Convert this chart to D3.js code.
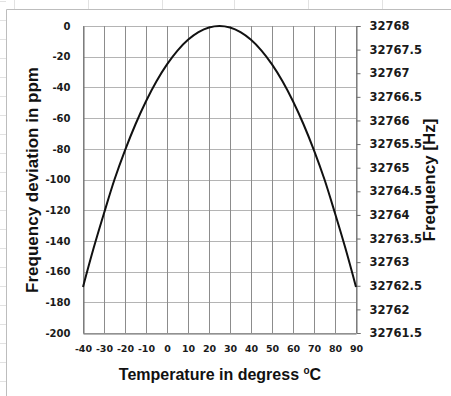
<!DOCTYPE html>
<html>
<head>
<meta charset="utf-8">
<script src="https://cdn.jsdelivr.net/npm/d3@7"></script>
<style>
  body { margin: 0; background: #fff; }
  svg { display: block; }
</style>
</head>
<body>
<svg id="chart" width="451" height="396"></svg>
<script>
// values
const tempC = [-40, -35, -30, -25, -20, -15, -10, -5, 0, 5, 10, 15, 20, 25, 30, 35, 40, 45, 50, 55, 60, 65, 70, 75, 80, 85, 90];
const ppm = [-170, -145, -122, -100, -81, -64, -49, -36, -25, -16, -9, -4, -1, 0, -1, -4, -9, -16, -25, -36, -49, -64, -81, -100, -122, -145, -170];

const xTicks = [-40, -30, -20, -10, 0, 10, 20, 30, 40, 50, 60, 70, 80, 90];
const yTicks = [0, -20, -40, -60, -80, -100, -120, -140, -160, -180, -200];
const hzTicks = [32768, 32767.5, 32767, 32766.5, 32766, 32765.5, 32765, 32764.5, 32764, 32763.5, 32763, 32762.5, 32762, 32761.5];

const svg = d3.select("#chart");
const pLeft = 83, pRight = 356, pTop = 26, pBottom = 333;

const x = d3.scaleLinear().domain([-40, 90]).range([pLeft, pRight]);
const y = d3.scaleLinear().domain([-200, 0]).range([pBottom, pTop]);
const yHz = d3.scaleLinear().domain([32761.5, 32768]).range([pBottom, pTop]);

// plain hyphen minus like the spreadsheet
const fmt = function(d) { return String(d); };

// sheet cell lines behind the chart
const faint = svg.append("g").attr("stroke", "#e2e2e2").attr("stroke-width", 1);
[14, 88, 162, 234, 308, 382].forEach(function(cx) {
    faint.append("line").attr("x1", cx + 0.5).attr("x2", cx + 0.5).attr("y1", 0).attr("y2", 9);
});
for (let gy = 1; gy < 396; gy += 19) {
    faint.append("line").attr("x1", 0).attr("x2", 6).attr("y1", gy + 0.5).attr("y2", gy + 0.5);
}

// chart frame
svg.append("path")
    .attr("d", "M6.5,396V9.5H451")
    .attr("fill", "none")
    .attr("stroke", "#bdbdbd");

// gridlines
const grid = svg.append("g");
grid.selectAll(".hg").data(yTicks).enter().append("line")
    .attr("x1", pLeft).attr("x2", pRight)
    .attr("y1", function(d) { return Math.round(y(d)) + 0.5; })
    .attr("y2", function(d) { return Math.round(y(d)) + 0.5; })
    .attr("stroke", "#b4b4b4");
grid.selectAll(".vg").data(xTicks).enter().append("line")
    .attr("x1", function(d) { return Math.round(x(d)) + 0.5; })
    .attr("x2", function(d) { return Math.round(x(d)) + 0.5; })
    .attr("y1", pTop).attr("y2", pBottom)
    .attr("stroke", "#8c8c8c");

// axes
const axisLeft = svg.append("g")
    .attr("transform", "translate(" + (pLeft + 0.5) + ",0)")
    .call(d3.axisLeft(y).tickValues(yTicks).tickSize(0).tickPadding(13).tickFormat(fmt));
const axisBottom = svg.append("g")
    .attr("transform", "translate(0," + (pBottom + 0.5) + ")")
    .call(d3.axisBottom(x).tickValues(xTicks).tickSize(0).tickPadding(12).tickFormat(fmt));
const axisRight = svg.append("g")
    .attr("transform", "translate(" + (pRight + 0.5) + ",0)")
    .call(d3.axisRight(yHz).tickValues(hzTicks).tickSize(4).tickPadding(9).tickFormat(fmt));

[axisLeft, axisBottom, axisRight].forEach(function(a) {
    a.select(".domain").attr("stroke", "#6e6e6e");
    a.selectAll(".tick line").attr("stroke", "#6e6e6e");
    a.selectAll("text")
        .attr("fill", "#1a1a1a")
        .style("font-family", "DejaVu Sans")
        .style("font-weight", "bold");
});
axisLeft.selectAll("text").style("font-size", "10px");
axisBottom.selectAll("text").style("font-size", "9.5px");
axisRight.selectAll("text").style("font-size", "11.5px");

// curve
const line = d3.line()
    .x(function(d, i) { return x(tempC[i]); })
    .y(function(d) { return y(d); })
    .curve(d3.curveCatmullRom);

svg.append("path")
    .datum(ppm)
    .attr("d", line)
    .attr("fill", "none")
    .attr("stroke", "#111")
    .attr("stroke-width", 2);

// titles
const titleFont = "Liberation Sans, Arial, sans-serif";
svg.append("text")
    .attr("transform", "translate(38,180) rotate(-90)")
    .attr("text-anchor", "middle")
    .style("font-family", titleFont).style("font-weight", "bold").style("font-size", "17px")
    .attr("fill", "#111")
    .text("Frequency deviation in ppm");

svg.append("text")
    .attr("transform", "translate(435,180) rotate(-90)")
    .attr("text-anchor", "middle")
    .style("font-family", titleFont).style("font-weight", "bold").style("font-size", "17px")
    .attr("fill", "#111")
    .text("Frequency [Hz]");

const xt = svg.append("text")
    .attr("x", 220).attr("y", 380)
    .attr("text-anchor", "middle")
    .style("font-family", titleFont).style("font-weight", "bold").style("font-size", "16px")
    .attr("fill", "#111");
xt.append("tspan").text("Temperature in degress ");
xt.append("tspan").attr("dy", -6).style("font-size", "10px").text("o");
xt.append("tspan").attr("dy", 6).text("C");
</script>
</body>
</html>
